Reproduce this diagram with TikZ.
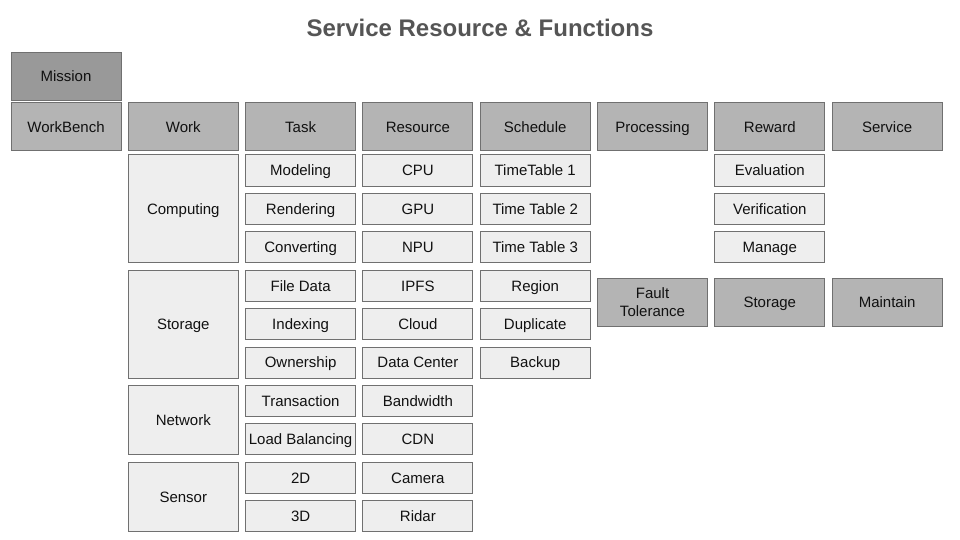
\documentclass[tikz,border=0pt]{standalone}
\usepackage{fontspec}
\setmainfont{Liberation Sans}
\usetikzlibrary{positioning}
\definecolor{srfink}   {HTML}{111111}
\definecolor{srfedge}  {HTML}{707070}
\definecolor{srfdark}  {HTML}{999999}
\definecolor{srfmid}   {HTML}{B4B4B4}
\definecolor{srflight} {HTML}{EEEEEE}
\definecolor{srfgrey}  {HTML}{555555}
\tikzset{
  srfbox/.style={draw=srfedge, line width=1pt, rectangle, minimum width=110pt,
                 inner sep=2pt, text=srfink, align=center,
                 text height=11pt, text depth=0.4pt,
                 font=\fontsize{15}{17}\selectfont},
  srfhead/.style={srfbox, fill=srfmid, minimum height=48pt},
  srfmission/.style={srfhead, fill=srfdark},
  srfitem/.style={srfbox, fill=srflight, minimum height=31pt},
  srfgroup/.style={srfbox, fill=srflight},
  srftitle/.style={font=\fontsize{24}{28}\selectfont\bfseries, text=srfgrey},
}

\begin{document}
\begin{tikzpicture}[x=1pt, y=-1pt]
  \useasboundingbox (0,0) rectangle (960,540);
  \node[srftitle] (title) at (480,28) {Service Resource \& Functions};
  \node[srfmission] (mission) at (66,76.5) {Mission};
  % header row, one column every 117.3pt
  \foreach \n/\t [count=\i from 0] in {workbench/WorkBench, work/Work, task/Task,
      resource/Resource, schedule/Schedule, processing/Processing,
      reward/Reward, service/Service}
    { \node[srfhead] (\n) at (66+117.3*\i,127) {\t}; }
  % work groups spanning several rows
  \foreach \n/\t/\y/\h in {computing/Computing/208.9/107.8pt,
      storage/Storage/324.1/107.8pt, network/Network/420.1/69.4pt,
      sensor/Sensor/496.9/69.4pt}
    { \node[srfgroup, minimum height=\h] (\n) at (183.3,\y) {\t}; }
  % item columns
  \foreach \t [count=\r from 0] in {Modeling, Rendering, Converting, File Data,
      Indexing, Ownership, Transaction, Load Balancing, 2D, 3D}
    { \node[srfitem] (task\r) at (300.6,170.5+38.4*\r) {\t}; }
  \foreach \t [count=\r from 0] in {CPU, GPU, NPU, IPFS, Cloud, Data Center,
      Bandwidth, CDN, Camera, Ridar}
    { \node[srfitem] (res\r) at (417.9,170.5+38.4*\r) {\t}; }
  \foreach \t [count=\r from 0] in {TimeTable 1, Time Table 2, Time Table 3,
      Region, Duplicate, Backup}
    { \node[srfitem] (sched\r) at (535.2,170.5+38.4*\r) {\t}; }
  \foreach \t [count=\r from 0] in {Evaluation, Verification, Manage}
    { \node[srfitem] (rew\r) at (769.8,170.5+38.4*\r) {\t}; }
  % lower service row
  \node[srfhead, text height=, text depth=] (fault) at (652.5,302)
    {Fault\\[1pt]Tolerance};
  \node[srfhead] (store) at (769.8,302) {Storage};
  \node[srfhead] (maintain) at (887.1,302) {Maintain};
\end{tikzpicture}
\end{document}
